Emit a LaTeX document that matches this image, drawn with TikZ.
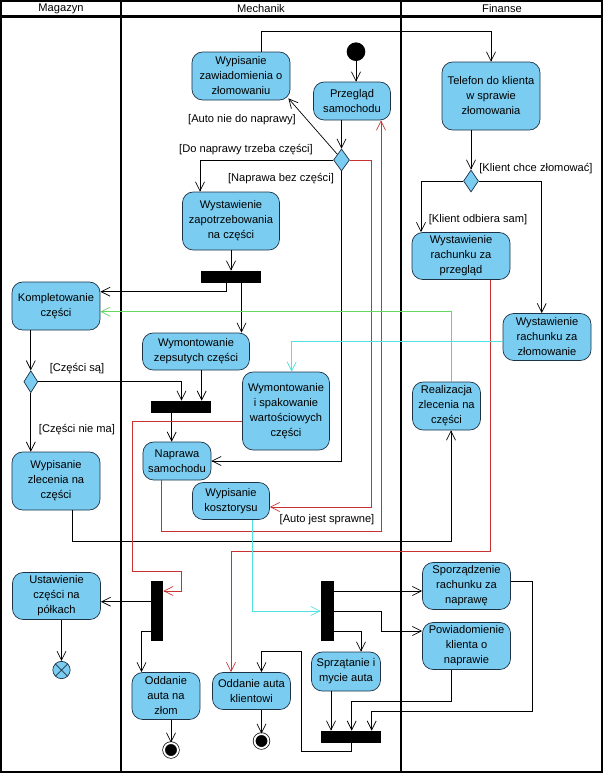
\documentclass[tikz,border=0pt]{standalone}
\usepackage{fontspec}
\setmainfont{Liberation Sans}
\usetikzlibrary{arrows.meta, shapes.geometric}

\definecolor{actfill}{RGB}{122,204,240}
\definecolor{actline}{RGB}{30,50,70}
\definecolor{flowred}{RGB}{200,50,50}
\definecolor{flowgreen}{RGB}{100,215,100}
\definecolor{flowcyan}{RGB}{80,225,225}

\tikzset{
    act/.style={draw=actline, fill=actfill, rounded corners=3.2mm, align=center, inner sep=1pt},
    bar/.style={fill=black, inner sep=0pt},
    dec/.style={diamond, draw=actline, fill=actfill, inner sep=0pt, minimum width=0.48cm, minimum height=0.66cm},
    startnode/.style={circle, fill=black, inner sep=0pt, minimum size=0.56cm},
    endnode/.style={circle, draw=black, fill=black, double=white, double distance=1.6pt, inner sep=0pt, minimum size=0.42cm},
    flowend/.style={circle, draw=actline, fill=actfill, inner sep=0pt, minimum size=0.52cm,
        path picture={\draw[actline] (path picture bounding box.north west) -- (path picture bounding box.south east)
            (path picture bounding box.south west) -- (path picture bounding box.north east);}},
    guard/.style={inner sep=0pt},
    lane/.style={line width=2pt},
}

\begin{document}
\begin{tikzpicture}[x=0.03cm, y=-0.03cm, >={Straight Barb[length=2.7mm,width=2.7mm]},
        font=\fontsize{9.5}{12.8}\selectfont, line width=0.6pt]
    \useasboundingbox (0,0) rectangle (603,773);

    % swimlanes
    \draw[lane] (1,1) rectangle (602,772);
    \draw[lane] (1,16.5) -- (602,16.5);
    \draw[lane] (121,1) -- (121,772);
    \draw[lane] (401,1) -- (401,772);
    \node (hMag) at (61,9) {Magazyn};
    \node (hMech) at (261,9) {Mechanik};
    \node (hFin) at (502,9) {Finanse};

    % Mechanik
    \node[startnode] (start) at (356,51.7) {};
    \node[act, minimum width=2.31cm, minimum height=1.14cm] (prz) at (352,101) {Przegląd\\samochodu};
    \node[act, minimum width=2.94cm, minimum height=1.44cm] (zaw) at (241,76) {Wypisanie\\zawiadomienia o\\złomowaniu};
    \node[dec] (d1) at (341.5,160) {};
    \node[act, minimum width=2.91cm, minimum height=1.74cm] (zap) at (231,221) {Wystawienie\\zapotrzebowania\\na części};
    \node[bar, minimum width=1.8cm, minimum height=0.36cm] (bar1) at (231,277) {};
    \node[act, minimum width=3.21cm, minimum height=1.11cm] (wzc) at (196,351.5) {Wymontowanie\\zepsutych części};
    \node[act, minimum width=2.61cm, minimum height=2.34cm] (wsp) at (286,411) {Wymontowanie\\i spakowanie\\wartościowych\\części};
    \node[bar, minimum width=1.8cm, minimum height=0.36cm] (bar2) at (181,407) {};
    \node[act, minimum width=2.04cm, minimum height=1.14cm] (nap) at (177,461) {Naprawa\\samochodu};
    \node[act, minimum width=2.31cm, minimum height=1.11cm] (kos) at (231,501) {Wypisanie\\kosztorysu};
    \node[bar, minimum width=0.36cm, minimum height=1.8cm] (bar3) at (157,611) {};
    \node[act, minimum width=2.04cm, minimum height=1.41cm] (zlom) at (166,696) {Oddanie\\auta na\\złom};
    \node[endnode] (fin1) at (171,750) {};
    \node[act, minimum width=2.34cm, minimum height=1.11cm] (kli) at (251.5,691) {Oddanie auta\\klientowi};
    \node[endnode] (fin2) at (261.5,741) {};
    \node[bar, minimum width=0.39cm, minimum height=1.8cm] (bar4) at (327.5,611) {};
    \node[act, minimum width=2.07cm, minimum height=1.17cm] (spr) at (346,671.5) {Sprzątanie i\\mycie auta};
    \node[bar, minimum width=1.8cm, minimum height=0.36cm] (bar5) at (351,737) {};

    % Magazyn
    \node[act, minimum width=2.64cm, minimum height=1.44cm] (kom) at (56,306) {Kompletowanie\\części};
    \node[dec, minimum width=0.42cm] (d3) at (30.8,381.7) {};
    \node[act, minimum width=2.64cm, minimum height=1.74cm] (wzl) at (56,481) {Wypisanie\\zlecenia na\\części};
    \node[act, minimum width=2.64cm, minimum height=1.41cm] (ust) at (56.5,596) {Ustawienie\\części na\\półkach};
    \node[flowend] (ff) at (61.5,670) {};

    % Finanse
    \node[act, minimum width=2.94cm, minimum height=2.04cm] (tel) at (491,96) {Telefon do klienta\\w sprawie\\złomowania};
    \node[dec, minimum width=0.45cm] (d2) at (471,181) {};
    \node[act, minimum width=2.94cm, minimum height=1.41cm] (rpr) at (461,256) {Wystawienie\\rachunku za\\przegląd};
    \node[act, minimum width=2.64cm, minimum height=1.41cm] (rzl) at (547,337) {Wystawienie\\rachunku za\\złomowanie};
    \node[act, minimum width=2.04cm, minimum height=1.44cm] (rea) at (446.5,406) {Realizacja\\zlecenia na\\części};
    \node[act, minimum width=2.64cm, minimum height=1.41cm] (spo) at (466.5,586) {Sporządzenie\\rachunku za\\naprawę};
    \node[act, minimum width=2.64cm, minimum height=1.41cm] (pow) at (466.5,646) {Powiadomienie\\klienta o\\naprawie};

    % guards
    \node[guard] (gNie) at (242,120) {[Auto nie do naprawy]};
    \node[guard] (gCzesci) at (246,150) {[Do naprawy trzeba części]};
    \node[guard] (gBez) at (281,179) {[Naprawa bez części]};
    \node[guard] (gSprawne) at (327,520) {[Auto jest sprawne]};
    \node[guard] (gSa) at (77,369) {[Części są]};
    \node[guard] (gNieMa) at (77,430) {[Części nie ma]};
    \node[guard] (gZlom) at (536,169) {[Klient chce złomować]};
    \node[guard] (gSam) at (478,220) {[Klient odbiera sam]};

    % flows
    \draw[->] (start) -- (start |- prz.north);
    \draw[->] (prz.south -| d1) -- (d1.north);
    \draw[->] (d1.north west) -- ([shift={(-2,-2)}]zaw.south east);
    \draw[->] (d1.west) -| (zap.north -| 200,0);
    \draw[->] (d1.south) |- (nap.east);
    \draw[->] (zaw.north -| 261.5,0) |- (491,31.7) -- (tel.north);
    \draw[->] (zap.south) -- (bar1.north);
    \draw[->] (bar1.south -| 226,0) |- (kom.east |- 0,291.7);
    \draw[->] (bar1.south -| 241.5,0) -- (wzc.north -| 241.5,0);
    \draw[->] (kom.south -| d3) -- (d3.north);
    \draw[->] (d3.east) -| (bar2.north -| 181.5,0);
    \draw[->] (d3.south) -- (wzl.north -| d3);
    \draw[->] (wzc.south -| 201.7,0) -- (bar2.north -| 201.7,0);
    \draw[->] (bar2.south -| 171.7,0) -- (nap.north -| 171.7,0);
    \draw[->] (wzl.south -| 72,0) |- (451,541.7) -- (rea.south -| 451,0);
    \draw[->] (tel.south -| d2) -- (d2.north);
    \draw[->] (d2.west) -| (rpr.north -| 421,0);
    \draw[->] (d2.east) -| (rzl.north -| 541.7,0);
    \draw[->] (bar3.west |- 0,601.7) -- (ust.east |- 0,601.7);
    \draw[->] (ust.south -| ff) -- (ff.north);
    \draw[->] (bar3.west |- 0,631.7) -| (zlom.north -| 141.5,0);
    \draw[->] (zlom.south -| fin1) -- (fin1.north);
    \draw[->] (bar4.east |- 0,591) -- (spo.west |- 0,591);
    \draw[->] (bar4.east |- 0,611) -| (381.7,631) -- (pow.west |- 0,631);
    \draw[->] (bar4.east |- 0,631) -| (spr.north -| 361,0);
    \draw[->] (spr.south -| 331,0) -- (bar5.north -| 331,0);
    \draw[->] (pow.south -| 451.7,0) |- (351.7,701.7) -- (bar5.north -| 351.7,0);
    \draw[->] (spo.east |- 0,581) -| (532,711) -| (bar5.north -| 371.7,0);
    \draw[->] (bar5.south -| 351.7,0) |- (301.7,751.3) -- (301.7,651.7) -| (kli.north -| 261.5,0);
    \draw[->] (kli.south -| fin2) -- (fin2.north);

    % coloured flows
    \draw[->, flowred] (d1.east) -| (371,507) -- (kos.east |- 0,507);
    \draw[->, flowred] (nap.south -| 161.5,0) |- (381,531) -- (prz.south -| 381,0);
    \draw[->, flowred] (wsp.west |- 0,421) -| (132,571.7) -| (181.5,591) -- (bar3.east |- 0,591);
    \draw[->, flowred] (rpr.south -| 490.5,0) |- (231,551.7) -- (kli.north -| 231,0);
    \draw[->, flowgreen] (rea.north -| 451,0) |- (kom.east |- 0,311.7);
    \draw[->, flowcyan] (rzl.west |- 0,341) -| (wsp.north -| 291.7,0);
    \draw[->, flowcyan] (kos.south -| 252,0) |- (bar4.west);
\end{tikzpicture}
\end{document}
